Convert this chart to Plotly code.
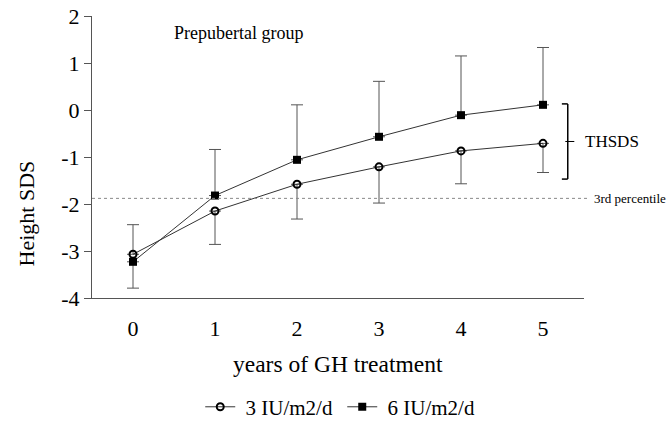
import plotly.graph_objects as go

years = [0, 1, 2, 3, 4, 5]
sds_3iu = [-3.07, -2.15, -1.58, -1.21, -0.87, -0.71]
sds_6iu = [-3.23, -1.82, -1.06, -0.57, -0.11, 0.11]
sd_3iu = [0.63, 0.71, 0.74, 0.77, 0.70, 0.62]
sd_6iu = [0.56, 0.98, 1.17, 1.18, 1.26, 1.22]
# direction in which each error bar is drawn (1 = up, -1 = down)
dir_3iu = [1, -1, -1, -1, -1, -1]
dir_6iu = [-1, 1, 1, 1, 1, 1]
y_ticks = [-4, -3, -2, -1, 0, 1, 2]
y_tick_text = ["-4", "-3", "-2", "-1", "0", "1", "2"]
percentile_3rd = -1.88
thsds_top, thsds_mid, thsds_bottom = 0.13, -0.67, -1.47

FONT = "Liberation Serif, Times New Roman, serif"
LC = "#333333"

def err(sd, d):
    return dict(type="data", symmetric=False,
                array=[s if k > 0 else 0 for s, k in zip(sd, d)],
                arrayminus=[s if k < 0 else 0 for s, k in zip(sd, d)],
                color="#555555", thickness=1, width=6)

fig = go.Figure()
fig.add_trace(go.Scatter(x=years, y=sds_3iu, mode="lines+markers", name="\u00a03 IU/m2/d",
                         line=dict(color=LC, width=1),
                         marker=dict(symbol="circle-open", size=7, color="black", line=dict(width=2)),
                         error_y=err(sd_3iu, dir_3iu)))
fig.add_trace(go.Scatter(x=years, y=sds_6iu, mode="lines+markers", name="\u00a06 IU/m2/d",
                         line=dict(color=LC, width=1),
                         marker=dict(symbol="square", size=8, color="black"),
                         error_y=err(sd_6iu, dir_6iu)))

shapes = [
    dict(type="line", xref="paper", yref="y", x0=0, x1=1.008, y0=percentile_3rd, y1=percentile_3rd,
         line=dict(color="#888888", width=1, dash="dot")),
    dict(type="line", xref="paper", yref="y", x0=0.967, x1=0.967, y0=thsds_top, y1=thsds_bottom,
         line=dict(color="black", width=1.5)),
    dict(type="line", xref="paper", yref="y", x0=0.955, x1=0.967, y0=thsds_top, y1=thsds_top,
         line=dict(color="black", width=1.5)),
    dict(type="line", xref="paper", yref="y", x0=0.955, x1=0.967, y0=thsds_bottom, y1=thsds_bottom,
         line=dict(color="black", width=1.5)),
    dict(type="line", xref="paper", yref="y", x0=0.962, x1=0.996, y0=thsds_mid, y1=thsds_mid,
         line=dict(color="black", width=1, dash="dash")),
]

annotations = [
    dict(text="Prepubertal group", xref="x", yref="y", x=0.48, y=1.64, xanchor="left",
         showarrow=False, font=dict(family=FONT, size=18, color="black")),
    dict(text="THSDS", xref="paper", yref="y", x=0.998, y=thsds_mid, xanchor="left",
         showarrow=False, font=dict(family=FONT, size=17, color="black")),
    dict(text="3rd percentile", xref="paper", yref="y", x=1.016, y=percentile_3rd, xanchor="left",
         showarrow=False, font=dict(family=FONT, size=13, color="black")),
    dict(text="Height SDS", xref="paper", yref="y", x=-0.134, y=-2.2, textangle=-90,
         xanchor="center", yanchor="middle", showarrow=False,
         font=dict(family=FONT, size=22, color="black")),
    dict(text="years of GH treatment", xref="paper", yref="paper", x=0.5, y=-0.234,
         xanchor="center", yanchor="middle", showarrow=False,
         font=dict(family=FONT, size=23.5, color="black")),
]

fig.update_layout(
    width=671, height=423,
    margin=dict(l=92, r=87, t=16, b=125, autoexpand=False),
    plot_bgcolor="white", paper_bgcolor="white",
    font=dict(family=FONT, color="black"),
    shapes=shapes, annotations=annotations,
    showlegend=True,
    legend=dict(orientation="h", x=0.22, y=-0.387, xanchor="left", yanchor="middle",
                font=dict(family=FONT, size=21), itemwidth=30, tracegroupgap=0,
                entrywidth=97, entrywidthmode="pixels"),
    xaxis=dict(range=[-0.5, 5.5], tickvals=years, showgrid=False, zeroline=False,
               showline=True, linecolor="#555555", linewidth=1, ticks="",
               tickfont=dict(family=FONT, size=22), ticklabelstandoff=11),
    yaxis=dict(range=[-4, 2], tickvals=y_ticks, ticktext=y_tick_text, showgrid=False, zeroline=False,
               showline=True, linecolor="#555555", linewidth=1, ticks="outside", ticklen=7,
               tickcolor="#555555", tickfont=dict(family=FONT, size=22), ticklabelstandoff=0),
)

fig.write_html("out.html", config={"displayModeBar": False},
               post_script="document.body.style.margin='0';")
